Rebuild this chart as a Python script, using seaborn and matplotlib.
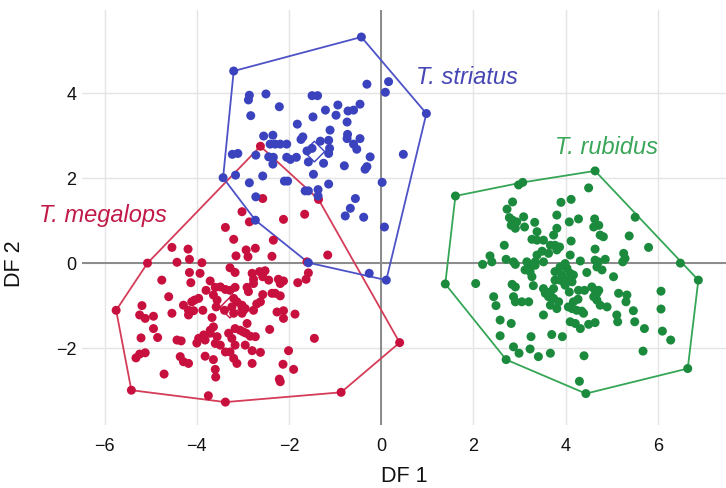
import matplotlib
matplotlib.use("Agg")
import matplotlib.pyplot as plt
import numpy as np
import pandas as pd
import seaborn as sns

# Discriminant function scores (DF 1, DF 2) per specimen
striatus_scores = [
    (-3.20, 4.52), (-0.43, 5.32), (0.98, 3.52), (0.11, -0.40), (-1.58, 0.01), (-2.73, 1.01), (-3.43, 2.01),
    (-0.31, 4.21), (0.16, 4.27), (0.09, 4.02), (-2.86, 3.95), (-2.88, 3.84), (-2.50, 3.98), (-1.50, 3.94),
    (-1.38, 3.94), (-2.21, 3.68), (-2.83, 3.47), (-1.21, 3.60), (-0.94, 3.72), (-0.98, 3.48), (-0.72, 3.58),
    (-0.60, 3.60), (-0.46, 3.74), (-0.74, 3.32), (-1.82, 3.27), (-1.48, 3.44), (-1.11, 3.13), (-0.73, 3.03),
    (-0.46, 2.93), (-1.70, 2.97), (-1.74, 2.91), (-2.55, 2.99), (-2.35, 3.01), (-2.41, 2.80), (-2.30, 2.80),
    (-2.19, 2.80), (-2.05, 2.80), (-1.14, 2.89), (-1.32, 2.87), (-0.60, 2.80), (-0.53, 2.68), (-0.74, 2.93),
    (-1.50, 2.70), (-1.61, 2.64), (-1.12, 2.70), (-1.14, 2.58), (-3.23, 2.56), (-3.11, 2.58), (-2.72, 2.54),
    (-2.44, 2.50), (-2.34, 2.49), (-2.35, 2.33), (-2.05, 2.49), (-1.97, 2.44), (-1.84, 2.49), (-1.58, 2.38),
    (-1.25, 2.35), (-0.80, 2.29), (-0.24, 2.50), (-0.31, 2.27), (-0.35, 2.21), (0.48, 2.56), (-3.16, 2.07),
    (-2.57, 2.05), (-2.86, 1.89), (-2.10, 1.93), (-2.03, 1.93), (-1.47, 2.09), (-1.14, 1.86), (0.02, 1.90),
    (-1.65, 1.70), (-1.58, 1.70), (-1.37, 1.73), (-1.37, 1.58), (-2.72, 1.56), (-0.56, 1.52), (-0.67, 1.29),
    (-0.78, 1.11), (-0.38, 1.08), (0.07, 0.85), (-0.26, -0.24),
]

megalops_scores = [
    (-2.62, 2.75), (0.40, -1.87), (-0.87, -3.04), (-5.07, 0.00), (-5.75, -1.11), (-5.42, -2.99), (-3.38, -3.27),
    (-3.75, -3.12), (-2.57, 1.52), (-1.36, 1.50), (-3.02, 1.21), (-2.86, 0.97), (-2.12, 1.03), (-1.66, 1.15),
    (-3.38, 0.84), (-3.20, 0.56), (-2.34, 0.54), (-2.93, 0.31), (-2.73, 0.35), (-3.15, 0.17), (-2.89, 0.15),
    (-2.37, 0.16), (-1.16, 0.19), (-3.89, 0.01), (-1.61, 0.03), (-1.58, -0.23), (-1.63, -0.38), (-1.81, -0.46),
    (-2.80, -0.24), (-2.64, -0.20), (-2.52, -0.18), (-2.57, -0.32), (-2.44, -0.40), (-2.77, -0.38), (-2.91, -0.57),
    (-2.88, -0.67), (-2.77, -0.48), (-2.23, -0.38), (-2.19, -0.48), (-2.12, -0.42), (-2.37, -0.71), (-2.30, -0.71),
    (-2.19, -0.77), (-2.57, -0.74), (-2.62, -0.91), (-2.70, -0.96), (-3.02, -1.03), (-2.99, -1.11), (-2.77, -1.11),
    (-2.26, -1.15), (-2.12, -1.12), (-2.12, -1.30), (-1.87, -1.20), (-2.91, -1.42), (-2.42, -1.56), (-2.99, -1.62),
    (-2.84, -1.72), (-2.73, -1.73), (-1.45, -1.77), (-2.95, -1.93), (-2.80, -2.06), (-2.62, -2.10), (-2.01, -2.06),
    (-2.80, -2.36), (-2.13, -2.38), (-1.90, -2.50), (-2.21, -2.73), (-2.19, -2.79), (-4.54, 0.37), (-4.19, 0.33),
    (-4.43, 0.02), (-4.16, 0.09), (-4.76, -0.40), (-4.16, -0.22), (-3.93, -0.24), (-4.13, -0.46), (-3.71, -0.42),
    (-3.28, -0.11), (-3.17, -0.22), (-3.80, -0.64), (-3.60, -0.57), (-3.49, -0.56), (-3.38, -0.62), (-3.28, -0.64),
    (-3.17, -0.57), (-4.61, -0.79), (-4.05, -0.87), (-3.96, -0.83), (-4.11, -0.91), (-3.64, -0.75), (-3.56, -0.87),
    (-3.58, -1.03), (-3.20, -0.83), (-3.13, -0.91), (-3.02, -0.99), (-2.95, -1.07), (-3.24, -1.03), (-4.29, -0.99),
    (-4.54, -1.18), (-5.19, -1.00), (-5.24, -1.22), (-5.12, -1.30), (-4.94, -1.25), (-4.18, -1.11), (-4.07, -1.12),
    (-4.18, -1.22), (-3.87, -1.11), (-3.67, -1.28), (-4.94, -1.54), (-4.85, -1.75), (-5.21, -1.76), (-4.43, -1.81),
    (-4.34, -1.83), (-3.96, -1.77), (-3.85, -1.69), (-4.00, -1.88), (-3.71, -1.58), (-3.64, -1.50), (-3.56, -1.73),
    (-3.60, -1.89), (-3.49, -1.93), (-3.38, -2.09), (-3.31, -1.65), (-3.24, -1.77), (-3.17, -1.54), (-3.06, -1.58),
    (-2.93, -1.65), (-3.17, -1.93), (-3.20, -2.24), (-3.13, -2.36), (-5.32, -2.23), (-5.24, -2.14), (-5.12, -2.11),
    (-4.36, -2.20), (-4.29, -2.32), (-4.18, -2.36), (-3.82, -2.19), (-3.64, -2.27), (-3.60, -2.50), (-3.59, -2.68),
    (-4.71, -2.61), (-3.40, -1.11), (-3.20, -1.18), (-3.02, -1.18), (-3.71, -1.65), (-3.82, -1.81), (-3.28, -2.09),
]

rubidus_scores = [
    (1.61, 1.58), (4.64, 2.17), (6.88, -0.40), (6.65, -2.48), (4.44, -3.07), (2.71, -2.27), (1.39, -0.49),
    (6.49, 0.00), (5.51, 1.08), (2.98, 1.84), (3.07, 1.90), (2.85, 1.44), (3.90, 1.43), (2.73, 1.27),
    (2.78, 1.07), (2.85, 1.01), (2.94, 0.97), (3.09, 1.09), (3.11, 0.85), (2.91, 0.82), (2.82, 0.89),
    (3.33, 0.96), (3.81, 1.13), (3.81, 0.82), (3.38, 0.74), (3.27, 0.56), (3.38, 0.54), (3.52, 0.54),
    (3.74, 0.66), (3.67, 0.42), (3.77, 0.42), (3.87, 0.38), (3.81, 0.31), (2.67, 0.42), (3.38, 0.19),
    (3.49, 0.28), (3.34, 0.03), (3.52, 0.03), (3.63, 0.23), (2.36, 0.17), (2.40, 0.03), (2.20, -0.03),
    (2.71, 0.09), (2.87, 0.03), (2.91, -0.03), (3.16, 0.03), (3.20, -0.09), (3.12, -0.16), (3.23, -0.20),
    (3.27, -0.32), (3.34, -0.05), (2.05, -0.48), (2.84, -0.50), (2.91, -0.56), (3.30, -0.53), (3.52, -0.60),
    (3.56, -0.71), (3.67, -0.68), (3.63, -0.79), (3.74, -0.83), (3.74, -0.60), (3.77, -0.40), (3.88, -0.40),
    (3.92, -0.28), (2.44, -0.79), (2.49, -1.00), (2.87, -0.79), (2.91, -0.91), (3.05, -0.91), (3.20, -0.91),
    (3.67, -0.99), (3.81, -1.07), (3.85, -0.91), (3.52, -1.22), (2.58, -1.34), (2.82, -1.42), (2.58, -1.71),
    (3.25, -1.73), (3.70, -1.68), (3.93, -1.73), (2.87, -1.97), (2.99, -2.12), (3.23, -2.02), (3.41, -2.20),
    (3.67, -2.12), (4.50, 1.77), (4.12, 1.50), (4.28, 1.04), (4.08, 0.97), (4.63, 1.04), (4.61, 0.85),
    (4.72, 0.89), (4.75, 0.66), (4.82, 0.62), (5.38, 0.64), (5.80, 0.37), (4.12, 0.52), (4.64, 0.33),
    (4.10, 0.19), (4.32, 0.05), (4.64, 0.07), (4.71, 0.03), (4.86, 0.09), (4.68, -0.09), (4.79, -0.16),
    (5.26, 0.23), (5.24, 0.03), (5.29, 0.11), (4.46, -0.22), (4.10, -0.24), (4.17, -0.28), (4.03, -0.40),
    (5.04, -0.32), (4.08, -0.68), (4.28, -0.64), (4.41, -0.64), (4.57, -0.56), (4.64, -0.64), (4.68, -0.71),
    (4.72, -0.64), (4.61, -0.79), (4.68, -0.87), (4.27, -0.85), (4.75, -0.99), (4.90, -1.03), (5.15, -0.71),
    (5.33, -0.75), (5.31, -0.91), (6.07, -0.66), (6.07, -1.08), (5.47, -1.12), (5.50, -1.38), (4.14, -1.07),
    (4.24, -1.11), (4.35, -1.13), (4.10, -1.38), (4.21, -1.42), (4.32, -1.54), (4.50, -1.44), (4.64, -1.40),
    (5.11, -1.22), (5.13, -1.38), (5.71, -1.54), (6.10, -1.60), (6.28, -1.81), (5.68, -2.07), (4.40, -2.18),
    (4.30, -2.78), (3.99, -0.01), (4.03, -0.12), (3.88, -0.09), (3.77, -0.20), (4.14, -0.44), (3.99, -0.52),
    (4.17, -0.91), (4.06, -1.03), (4.39, -1.18),
]

species_names = ["T. megalops", "T. striatus", "T. rubidus"]
point_colors = ["#c8103f", "#3a43bd", "#1b8a3d"]
hull_colors = ["#d43c58", "#4d52c6", "#35a556"]
label_colors = ["#c21a48", "#4545b5", "#3aa659"]
label_positions = [(-7.42, 1.13), (0.76, 4.36), (3.77, 2.71)]

all_scores = [megalops_scores, striatus_scores, rubidus_scores]
df = pd.concat(
    [pd.DataFrame(s, columns=["DF1", "DF2"]).assign(species=n) for s, n in zip(all_scores, species_names)],
    ignore_index=True,
)


def convex_hull(points):
    """Monotone-chain convex hull, returned as a closed ring."""
    pts = sorted(set(points))

    def cross(o, a, b):
        return (a[0] - o[0]) * (b[1] - o[1]) - (a[1] - o[1]) * (b[0] - o[0])

    lower, upper = [], []
    for p in pts:
        while len(lower) >= 2 and cross(lower[-2], lower[-1], p) <= 0:
            lower.pop()
        lower.append(p)
    for p in reversed(pts):
        while len(upper) >= 2 and cross(upper[-2], upper[-1], p) <= 0:
            upper.pop()
        upper.append(p)
    ring = lower[:-1] + upper[:-1]
    return ring + [ring[0]]


sns.set_theme(style="whitegrid")
plt.rcParams["font.family"] = ["Liberation Sans", "DejaVu Sans"]

fig = plt.figure(figsize=(7.26, 4.88), dpi=100)
ax = fig.add_axes([0.113, 0.129, 0.887, 0.850])

# Grid and zero axes
ax.set_xlim(-6.49, 7.48)
ax.set_ylim(-3.81, 5.95)
ax.set_xticks([-6, -4, -2, 0, 2, 4, 6])
ax.set_yticks([-2, 0, 2, 4])
ax.grid(True, color="#e4e4e4", linewidth=1.0)
for sp in ax.spines.values():
    sp.set_visible(False)
ax.axhline(0, color="#8a8a8a", linewidth=1.4, zorder=1)
ax.axvline(0, color="#8a8a8a", linewidth=1.4, zorder=1)

# Convex hull outline around each group
for scores, col in zip(all_scores, hull_colors):
    ring = convex_hull(scores)
    hx, hy = zip(*ring)
    ax.plot(hx, hy, color=col, linewidth=1.3, zorder=2)

sns.scatterplot(
    data=df, x="DF1", y="DF2", hue="species", hue_order=species_names,
    palette=point_colors, s=42, linewidth=0, legend=False, ax=ax, zorder=3,
)

# Group centroids as open diamonds
for scores, col in zip(all_scores, point_colors):
    arr = np.array(scores)
    ax.scatter(arr[:, 0].mean(), arr[:, 1].mean(), marker="D", s=110,
               facecolors="none", edgecolors=col, linewidths=1.0, zorder=4)

for name, col, (tx, ty) in zip(species_names, label_colors, label_positions):
    ax.text(tx, ty, name, color=col, fontsize=17, style="italic",
            ha="left", va="center", clip_on=False)

ax.tick_params(axis="both", length=0, labelsize=13, colors="#111111")
ax.tick_params(axis="x", pad=9)
ax.tick_params(axis="y", pad=4)
ax.set_xlabel("DF 1", fontsize=15.5, color="#111111", labelpad=8)
ax.set_ylabel("DF 2", fontsize=15.5, color="#111111")
ax.yaxis.set_label_coords(-0.088, 0.39)

fig.savefig("out.png", dpi=100, facecolor="white")
